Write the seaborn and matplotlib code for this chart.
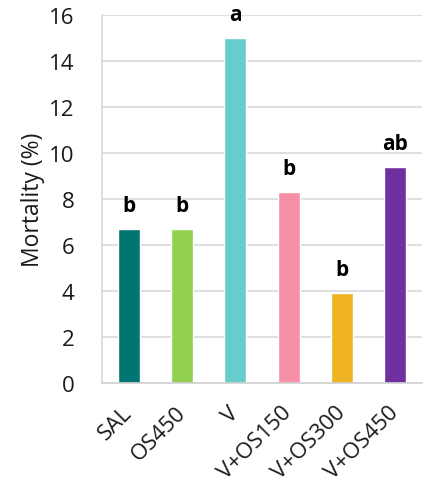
import matplotlib
matplotlib.use("Agg")
import matplotlib.pyplot as plt
import seaborn as sns
import pandas as pd

# values
groups = ['SAL', 'OS450', 'V', 'V+OS150', 'V+OS300', 'V+OS450']
mortality = [6.7, 6.7, 15.0, 8.3, 3.9, 9.4]
letters = ['b', 'b', 'a', 'b', 'b', 'ab']
colors = ['#007672', '#92D050', '#66CDCA', '#F78FA7', '#F0B323', '#7030A0']

df = pd.DataFrame({'group': groups, 'mortality': mortality})

sns.set_style('white')
plt.rcParams['font.family'] = ['Open Sans', 'DejaVu Sans']

fig = plt.figure(figsize=(4.24, 4.89), dpi=100)
ax = fig.add_axes([0.241, 0.2147, 0.754, 0.7526])

sns.barplot(data=df, x='group', y='mortality', hue='group', palette=colors,
            width=0.41, legend=False, ax=ax, saturation=1)

# significance letters above bars
for i, (v, lab) in enumerate(zip(mortality, letters)):
    ax.annotate(lab, (i, v), xytext=(0, 13), textcoords='offset points',
                ha='center', va='baseline', fontsize=15, fontweight='bold',
                color='black')

ax.set_ylim(0, 16)
ax.set_xlim(-0.5, 5.5)
ax.set_yticks(range(0, 17, 2))
ax.yaxis.grid(True, color='#D9D9D9', linewidth=1.2)
ax.set_axisbelow(True)

ax.set_xlabel('')
ax.set_ylabel('Mortality (%)', fontsize=16.5, color='#1a1a1a', labelpad=3)
ax.tick_params(axis='both', length=0, labelsize=16, colors='#1a1a1a')
ax.tick_params(axis='y', pad=20)
ax.tick_params(axis='x', pad=19)
plt.setp(ax.get_xticklabels(), rotation=45, ha='right', va='center',
         rotation_mode='anchor')

for s in ['top', 'right']:
    ax.spines[s].set_visible(False)
ax.spines['left'].set_color('#D9D9D9')
ax.spines['bottom'].set_color('#D0D0D0')
ax.spines['left'].set_linewidth(1.2)
ax.spines['bottom'].set_linewidth(1.2)

fig.savefig('out.png', dpi=100)
